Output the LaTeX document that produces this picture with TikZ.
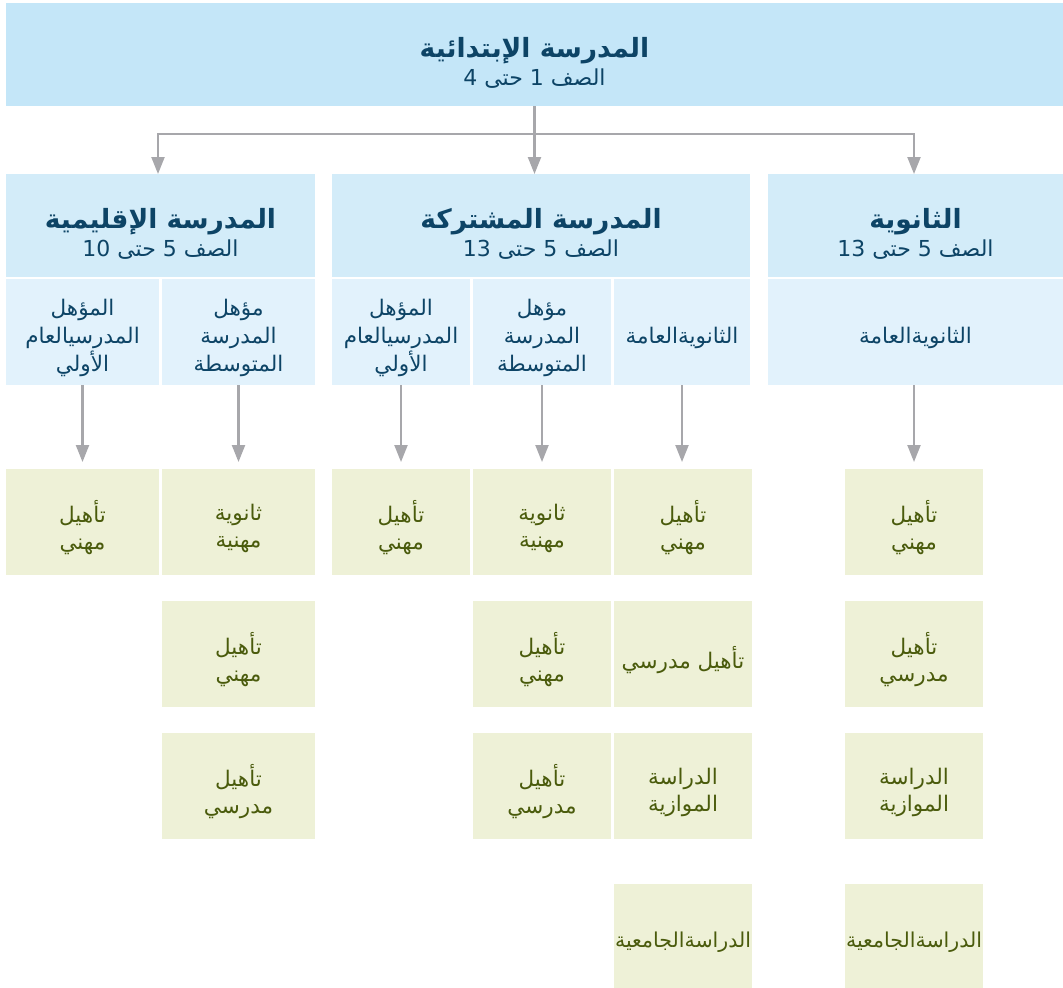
\documentclass[tikz,border=0pt]{standalone}
\usepackage{fontspec}
\setmainfont{DejaVu Sans}
\newfontfamily\arabicfont[Script=Arabic]{DejaVu Sans}
\TeXXeTstate=1
\usetikzlibrary{arrows.meta}
\definecolor{topblue}{HTML}{C4E6F8}
\definecolor{headblue}{HTML}{D3ECF9}
\definecolor{subblue}{HTML}{E2F2FC}
\definecolor{greenbox}{HTML}{EEF1D7}
\definecolor{bluetext}{HTML}{0D4466}
\definecolor{greentext}{HTML}{4A5B0C}
\definecolor{arrowgray}{HTML}{A7A7AB}
\newcommand\ar[1]{\beginR #1\endR}
\newcommand\ttl[1]{{\fontsize{26.5}{28}\selectfont\bfseries\ar{#1}}}
\newcommand\sbt[1]{{\ar{#1}}}
% box text placed slightly below the box centre
\newcommand\boxtext[3]{\node[#1] at ([yshift=-6pt]#2.center) {#3};}
\begin{document}
\begin{tikzpicture}[x=1pt,y=-1pt,
  base/.style={inner sep=0pt, outer sep=0pt},
  topbox/.style={base, fill=topblue},
  headbox/.style={base, fill=headblue, minimum height=103pt},
  subbox/.style={base, fill=subblue, minimum height=106pt},
  gbox/.style={base, fill=greenbox, minimum height=106pt},
  ttext/.style={inner sep=0pt, align=center, text=bluetext, font=\arabicfont\fontsize{22}{28}\selectfont},
  stext/.style={inner sep=0pt, align=center, text=bluetext, font=\arabicfont\fontsize{21.5}{28}\selectfont},
  gtext/.style={inner sep=0pt, align=center, text=greentext, font=\arabicfont\fontsize{21.5}{27}\selectfont},
  gtextsm/.style={gtext, font=\arabicfont\fontsize{20.5}{27}\selectfont},
  conn/.style={draw=arrowgray, line width=2.2pt},
  arr/.style={conn, -{Triangle[width=13pt,length=17pt]}}
]
\useasboundingbox (0,0) rectangle (1063,988);

% top
\node[topbox, minimum width=1057pt, minimum height=103pt] (prim) at (534.5,54.5) {};
\node[ttext] at ([yshift=-8pt]prim.center) {\ttl{المدرسة الإبتدائية}\\\sbt{الصف 1 حتى 4}};

% headers
\node[headbox, minimum width=309pt] (h1) at (160.5,225.5) {};
\node[headbox, minimum width=418pt] (h2) at (541,225.5) {};
\node[headbox, minimum width=295pt] (h3) at (915.5,225.5) {};
\node[ttext] at ([yshift=-8pt]h1.center) {\ttl{المدرسة الإقليمية}\\\sbt{الصف 5 حتى \beginL 10\endL}};
\node[ttext] at ([yshift=-8pt]h2.center) {\ttl{المدرسة المشتركة}\\\sbt{الصف 5 حتى \beginL 13\endL}};
\node[ttext] at ([yshift=-8pt]h3.center) {\ttl{الثانوية}\\\sbt{الصف 5 حتى \beginL 13\endL}};

% sub boxes
\node[subbox, minimum width=153pt] (s11) at (82.5,332) {};
\node[subbox, minimum width=153pt] (s12) at (238.5,332) {};
\node[subbox, minimum width=138pt] (s21) at (401,332) {};
\node[subbox, minimum width=138pt] (s22) at (542,332) {};
\node[subbox, minimum width=136pt] (s23) at (682,332) {};
\node[subbox, minimum width=295pt] (s3) at (915.5,332) {};
\boxtext{stext}{s11}{\ar{المؤهل}\\\ar{المدرسيالعام}\\\ar{الأولي}}
\boxtext{stext}{s12}{\ar{مؤهل}\\\ar{المدرسة}\\\ar{المتوسطة}}
\boxtext{stext}{s21}{\ar{المؤهل}\\\ar{المدرسيالعام}\\\ar{الأولي}}
\boxtext{stext}{s22}{\ar{مؤهل}\\\ar{المدرسة}\\\ar{المتوسطة}}
\boxtext{stext}{s23}{\ar{الثانويةالعامة}}
\boxtext{stext}{s3}{\ar{الثانويةالعامة}}

% green boxes
\node[gbox, minimum width=153pt] (g11) at (82.5,522) {};
\node[gbox, minimum width=153pt] (g12) at (238.5,522) {};
\node[gbox, minimum width=153pt] (g12b) at (238.5,654) {};
\node[gbox, minimum width=153pt] (g12c) at (238.5,786) {};
\node[gbox, minimum width=138pt] (g21) at (401,522) {};
\node[gbox, minimum width=138pt] (g22) at (542,522) {};
\node[gbox, minimum width=138pt] (g22b) at (542,654) {};
\node[gbox, minimum width=138pt] (g22c) at (542,786) {};
\node[gbox, minimum width=138pt] (g23) at (683,522) {};
\node[gbox, minimum width=138pt] (g23b) at (683,654) {};
\node[gbox, minimum width=138pt] (g23c) at (683,786) {};
\node[gbox, minimum width=138pt, minimum height=104pt] (g23d) at (683,936) {};
\node[gbox, minimum width=138pt] (g3) at (914,522) {};
\node[gbox, minimum width=138pt] (g3b) at (914,654) {};
\node[gbox, minimum width=138pt] (g3c) at (914,786) {};
\node[gbox, minimum width=138pt, minimum height=104pt] (g3d) at (914,936) {};

\boxtext{gtext}{g11}{\ar{تأهيل}\\\ar{مهني}}
\boxtext{gtext}{g12}{\ar{ثانوية}\\\ar{مهنية}}
\boxtext{gtext}{g12b}{\ar{تأهيل}\\\ar{مهني}}
\boxtext{gtext}{g12c}{\ar{تأهيل}\\\ar{مدرسي}}
\boxtext{gtext}{g21}{\ar{تأهيل}\\\ar{مهني}}
\boxtext{gtext}{g22}{\ar{ثانوية}\\\ar{مهنية}}
\boxtext{gtext}{g22b}{\ar{تأهيل}\\\ar{مهني}}
\boxtext{gtext}{g22c}{\ar{تأهيل}\\\ar{مدرسي}}
\boxtext{gtext}{g23}{\ar{تأهيل}\\\ar{مهني}}
\boxtext{gtext}{g23b}{\ar{تأهيل مدرسي}}
\boxtext{gtext}{g23c}{\ar{الدراسة}\\\ar{الموازية}}
\boxtext{gtextsm}{g23d}{\ar{الدراسةالجامعية}}
\boxtext{gtext}{g3}{\ar{تأهيل}\\\ar{مهني}}
\boxtext{gtext}{g3b}{\ar{تأهيل}\\\ar{مدرسي}}
\boxtext{gtext}{g3c}{\ar{الدراسة}\\\ar{الموازية}}
\boxtext{gtextsm}{g3d}{\ar{الدراسةالجامعية}}

% top connectors
\coordinate (j1) at (158,134);
\coordinate (j2) at (534.5,134);
\coordinate (j3) at (914,134);
\draw[conn] (prim.south) -- (j2);
\draw[conn, line cap=rect] (j1) -- (j3);
\draw[arr] (j1) -- (j1 |- h1.north);
\draw[arr] (j2) -- (j2 |- h2.north);
\draw[arr] (j3) -- (j3 |- h3.north);

% lower arrows
\draw[arr, shorten >=7pt] (s11.south) -- (g11.north);
\draw[arr, shorten >=7pt] (s12.south) -- (g12.north);
\draw[arr, shorten >=7pt] (s21.south) -- (g21.north);
\draw[arr, shorten >=7pt] (s22.south) -- (g22.north);
\draw[arr, shorten >=7pt] (s23.south) -- (s23.south |- g23.north);
\draw[arr, shorten >=7pt] (g3.north |- s3.south) -- (g3.north);
\end{tikzpicture}
\end{document}
